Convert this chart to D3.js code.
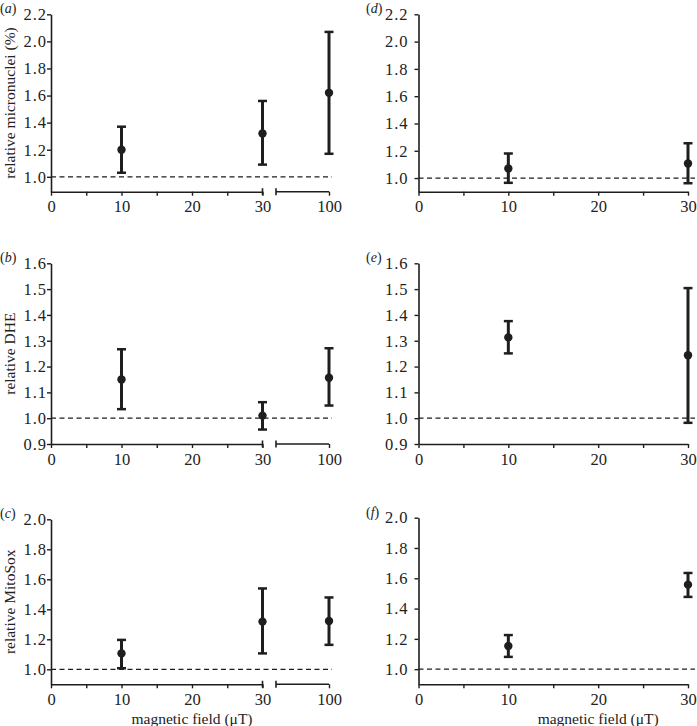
<!DOCTYPE html>
<html>
<head>
<meta charset="utf-8">
<script src="https://cdn.jsdelivr.net/npm/d3@7"></script>
<style>
  body { margin: 0; background: #fff; }
  svg text { font-family: "Liberation Serif", "DejaVu Serif", serif; fill: #222; }
</style>
</head>
<body>
<svg width="697" height="726"></svg>
<script>
let svg = d3.select("svg");

// field strengths (uT)
let dosesLeft = [10, 30, 100];
let dosesRight = [10, 30];
let xTicks = [0, 5, 10, 15, 20, 25, 30];
let xLabelTicks = [0, 10, 20, 30];

// (a) relative micronuclei
let aMean = [1.20, 1.32, 1.62];
let aLow = [1.03, 1.09, 1.17];
let aHigh = [1.37, 1.56, 2.07];
// (b) relative DHE
let bMean = [1.15, 1.01, 1.157];
let bLow = [1.035, 0.956, 1.049];
let bHigh = [1.267, 1.062, 1.271];
// (c) relative MitoSox
let cMean = [1.106, 1.318, 1.322];
let cLow = [1.007, 1.106, 1.163];
let cHigh = [1.196, 1.539, 1.479];
// (d)
let dMean = [1.07, 1.107];
let dLow = [0.965, 0.962];
let dHigh = [1.18, 1.255];
// (e)
let eMean = [1.313, 1.244];
let eLow = [1.251, 0.982];
let eHigh = [1.376, 1.504];
// (f)
let fMean = [1.153, 1.558];
let fLow = [1.081, 1.477];
let fHigh = [1.225, 1.635];

let ticksTop = [1.0, 1.2, 1.4, 1.6, 1.8, 2.0, 2.2];
let ticksMid = [0.9, 1.0, 1.1, 1.2, 1.3, 1.4, 1.5, 1.6];
let ticksBot = [1.0, 1.2, 1.4, 1.6, 1.8, 2.0];

let ink = "#1e1e1e";
let tickFont = "16.5px";
let titleFont = "15.5px";
let letterFont = "14px";

let panels = [
    {label: "a", side: "L", dom: [0.89, 2.2], top: 14.3, bottom: 191.7, ticks: ticksTop, title: "relative micronuclei (%)",
     doses: dosesLeft, mean: aMean, lo: aLow, hi: aHigh},
    {label: "b", side: "L", dom: [0.9, 1.6], top: 263.3, bottom: 444, ticks: ticksMid, title: "relative DHE",
     doses: dosesLeft, mean: bMean, lo: bLow, hi: bHigh},
    {label: "c", side: "L", dom: [0.9, 2.0], top: 519.3, bottom: 684.3, ticks: ticksBot, title: "relative MitoSox",
     doses: dosesLeft, mean: cMean, lo: cLow, hi: cHigh, xTitle: true},
    {label: "d", side: "R", dom: [0.9, 2.2], top: 14.3, bottom: 191.7, ticks: ticksTop,
     doses: dosesRight, mean: dMean, lo: dLow, hi: dHigh},
    {label: "e", side: "R", dom: [0.9, 1.6], top: 263.3, bottom: 444, ticks: ticksMid,
     doses: dosesRight, mean: eMean, lo: eLow, hi: eHigh},
    {label: "f", side: "R", dom: [0.9, 2.0], top: 517.7, bottom: 684.3, ticks: ticksBot,
     doses: dosesRight, mean: fMean, lo: fLow, hi: fHigh, xTitle: true}
];

panels.forEach(p => drawPanel(p));

function drawPanel(p){
    let left = p.side === "L";
    let x0 = left ? 51 : 418.5;
    let x30 = left ? 262.5 : 688;
    let xMain = d3.scaleLinear().domain([0, 30]).range([x0, x30]);
    // broken segment for 100 uT (left panels only)
    let xBreak = d3.scaleLinear().domain([30, 100]).range([276, 329]);
    let xPos = v => v <= 30 ? xMain(v) : xBreak(v);
    let y = d3.scaleLinear().domain(p.dom).range([p.bottom, p.top]);

    let g = svg.append("g");

    // y axis
    let yAx = g.append("g")
        .attr("transform", `translate(${x0},0)`)
        .call(d3.axisLeft(y).tickValues(p.ticks).tickFormat(d3.format(".1f"))
            .tickSize(4).tickSizeOuter(0).tickPadding(left ? 0 : 6));
    styleAxis(yAx);
    yAx.selectAll(".tick text").style("letter-spacing", "1px");

    // x axis
    let xAx = g.append("g")
        .attr("transform", `translate(0,${p.bottom})`)
        .call(d3.axisBottom(xMain).tickValues(xTicks)
            .tickFormat(d => xLabelTicks.includes(d) ? d : "")
            .tickSize(4).tickSizeOuter(0).tickPadding(5));
    styleAxis(xAx);

    if (left){
        // break marks and the 100 segment
        g.append("line").attr("x1", x30).attr("x2", x30)
            .attr("y1", p.bottom - 3.5).attr("y2", p.bottom + 3.5)
            .attr("stroke", ink).attr("stroke-width", 1.6);
        let bAx = g.append("g")
            .attr("transform", `translate(0,${p.bottom})`)
            .call(d3.axisBottom(xBreak).tickValues([100]).tickFormat(d3.format("d"))
                .tickSize(4).tickSizeOuter(0).tickPadding(5));
        bAx.select(".domain").attr("d", `M${xBreak(30)},0H${xBreak(100)}`);
        styleAxis(bAx);
        g.append("line").attr("x1", xBreak(30)).attr("x2", xBreak(30))
            .attr("y1", p.bottom - 3.5).attr("y2", p.bottom + 3.5)
            .attr("stroke", ink).attr("stroke-width", 1.6);
    }

    // reference line at 1.0
    g.append("line")
        .attr("x1", x0).attr("x2", left ? 332 : 695)
        .attr("y1", y(1.0)).attr("y2", y(1.0))
        .attr("stroke", ink).attr("stroke-width", 1.2)
        .attr("stroke-dasharray", "5,3.5");

    // error bars
    p.doses.forEach((d, i) => {
        let cx = xPos(d);
        g.append("line").attr("x1", cx).attr("x2", cx)
            .attr("y1", y(p.lo[i])).attr("y2", y(p.hi[i]))
            .attr("stroke", ink).attr("stroke-width", 3);
        [p.lo[i], p.hi[i]].forEach(v => {
            g.append("line").attr("x1", cx - 4.5).attr("x2", cx + 4.5)
                .attr("y1", y(v)).attr("y2", y(v))
                .attr("stroke", ink).attr("stroke-width", 2.5);
        });
        g.append("circle").attr("cx", cx).attr("cy", y(p.mean[i]))
            .attr("r", 4.2).attr("fill", ink);
    });

    // panel letter
    let lab = g.append("text")
        .attr("x", left ? 0 : 366)
        .attr("y", p.top - 1)
        .style("font-size", letterFont);
    lab.append("tspan").text("(");
    lab.append("tspan").style("font-style", "italic").text(p.label);
    lab.append("tspan").text(")");

    if (p.title){
        g.append("text")
            .attr("transform", `translate(14.5,${(p.top + p.bottom) / 2}) rotate(-90)`)
            .attr("text-anchor", "middle")
            .style("font-size", titleFont)
            .text(p.title);
    }
    if (p.xTitle){
        g.append("text")
            .attr("x", xMain(20)).attr("y", 723.5)
            .attr("text-anchor", "middle")
            .style("font-size", titleFont)
            .text("magnetic field (\u03bcT)");
    }
}

function styleAxis(ax){
    ax.select(".domain").attr("stroke", ink).attr("stroke-width", 1.6);
    ax.selectAll(".tick line").attr("stroke", ink).attr("stroke-width", 1.4);
    ax.selectAll(".tick text").style("font-size", tickFont)
        .style("font-family", '"Liberation Serif", serif').attr("fill", "#222");
}
</script>
</body>
</html>
